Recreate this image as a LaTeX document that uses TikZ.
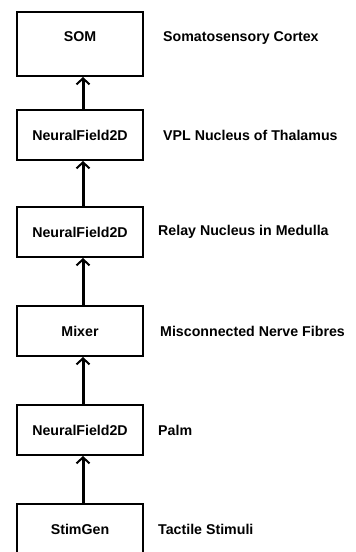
\documentclass[tikz,border=0pt]{standalone}
\usepackage{fontspec}
\setmainfont{Liberation Sans}
\usetikzlibrary{positioning, arrows.meta}

\begin{document}
\begin{tikzpicture}[x=1pt, y=1pt,
      box/.style={draw, line width=2pt, minimum width=126pt, minimum height=50pt,
                  inner sep=0pt, font=\fontsize{14.2}{16}\bfseries\selectfont},
      lbl/.style={inner sep=0pt, font=\fontsize{14.2}{16}\bfseries\selectfont},
      arr/.style={-{Straight Barb[length=6pt, width=13pt, line width=2pt]}, line width=3pt},
      node distance=47pt]
    \clip (0,0) rectangle (356,-552);
    \fill[white] (0,0) rectangle (356,-552);
    % stack of modules, bottom to top
    \node[box, minimum height=64pt, text depth=15pt] (som) at (80,-44) {SOM};
    \node[box, below=32pt of som] (vpl) {NeuralField2D};
    \node[box, below=45pt of vpl] (relay) {NeuralField2D};
    \node[box, below=of relay] (mixer) {Mixer};
    \node[box, below=of mixer] (palm) {NeuralField2D};
    \node[box, below=of palm] (stim) {StimGen};
    % what each module stands for
    \node[lbl, right=19pt of som.base east, anchor=base west] (somtxt) {Somatosensory Cortex};
    \node[lbl, right=19pt of vpl] (vpltxt) {VPL Nucleus of Thalamus};
    \node[lbl, right=14pt of relay] (relaytxt) {Relay Nucleus in Medulla};
    \node[lbl, right=16pt of mixer] (mixertxt) {Misconnected Nerve Fibres};
    \node[lbl, right=14pt of palm] (palmtxt) {Palm};
    \node[lbl, right=14pt of stim] (stimtxt) {Tactile Stimuli};
    \foreach \a/\b in {stim/palm, palm/mixer, mixer/relay, relay/vpl, vpl/som}
      \draw[arr] ([xshift=3pt]\a.north) -- ([xshift=3pt]\b.south);
  \end{tikzpicture}
\end{document}
